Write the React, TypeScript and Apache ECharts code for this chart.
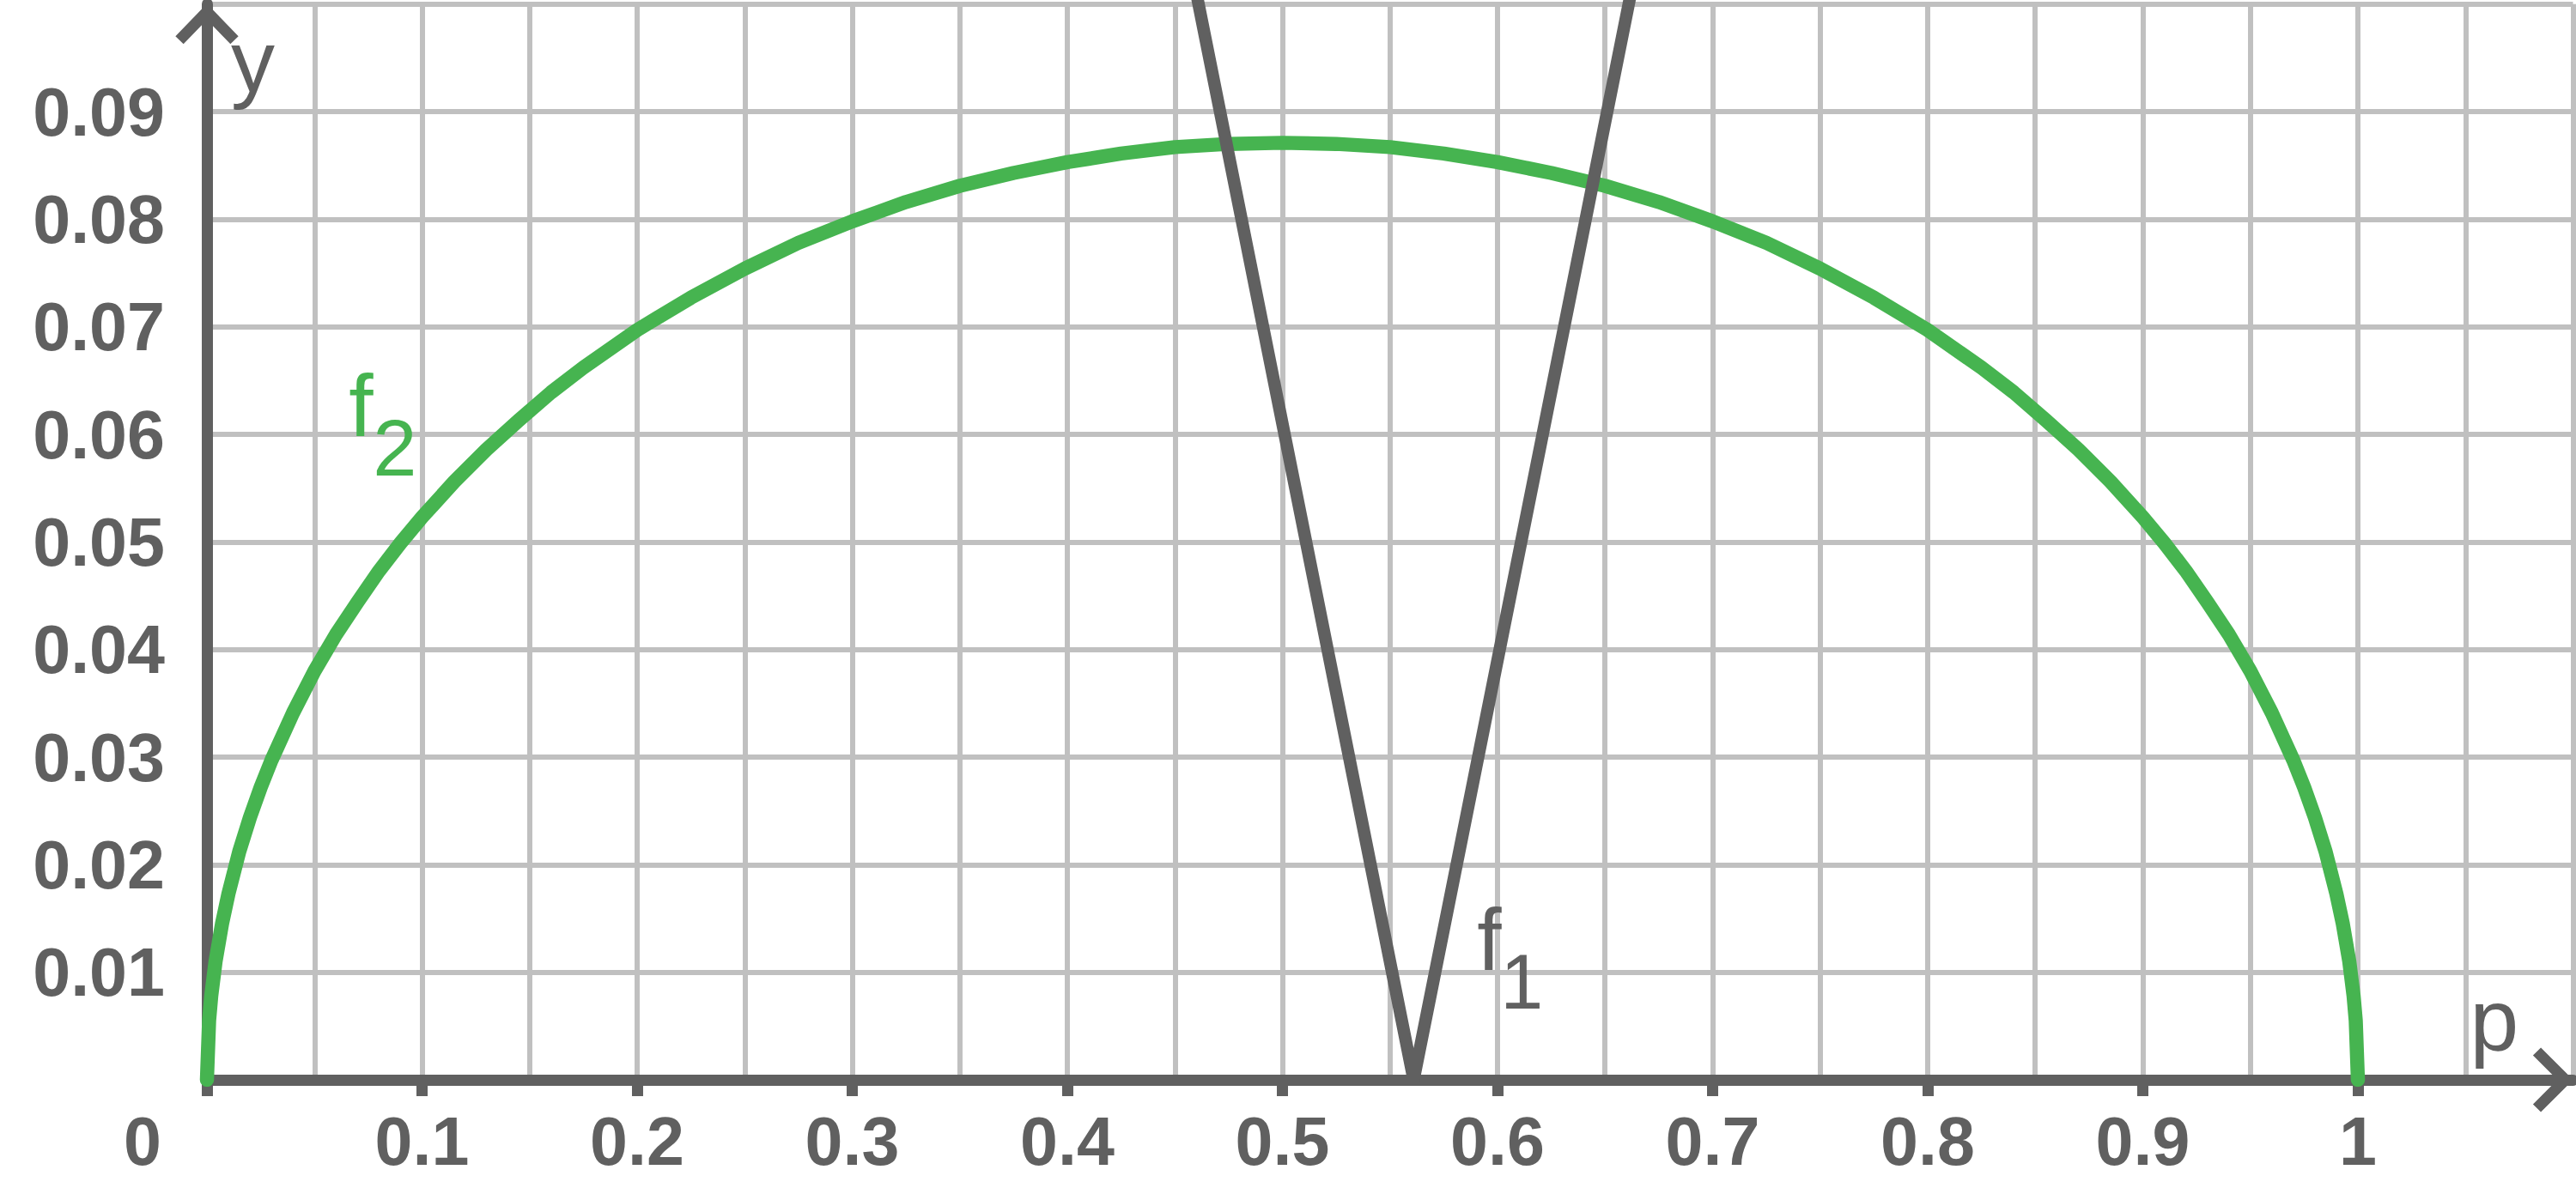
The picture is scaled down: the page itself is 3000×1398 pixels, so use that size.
import React, { useEffect, useRef } from 'react';
import * as echarts from 'echarts';

const AXIS = '#606060';
const GRID = '#c0c0c0';
const GREEN = '#46b450';
const FONT = "'Liberation Sans', Arial, sans-serif";

const xMax = 1.1;
const yMax = 0.1;
const xTickValues = [0, 0.1, 0.2, 0.3, 0.4, 0.5, 0.6, 0.7, 0.8, 0.9, 1];

// f2 curve
const f2P = [
  0, 0.001, 0.002, 0.004, 0.007, 0.01, 0.015, 0.02, 0.025, 0.03, 0.04, 0.05, 0.06,
  0.07, 0.08, 0.09, 0.1, 0.115, 0.13, 0.145, 0.16, 0.175, 0.2, 0.225, 0.25, 0.275,
  0.3, 0.325, 0.35, 0.375, 0.4, 0.425, 0.45, 0.475, 0.5, 0.525, 0.55, 0.575, 0.6,
  0.625, 0.65, 0.675, 0.7, 0.725, 0.75, 0.775, 0.8, 0.825, 0.84, 0.855, 0.87, 0.885,
  0.9, 0.91, 0.92, 0.93, 0.94, 0.95, 0.96, 0.97, 0.975, 0.98, 0.985, 0.99, 0.993,
  0.996, 0.998, 0.999, 1,
];
const f2Y = [
  0, 0.0055, 0.0078, 0.011, 0.0145, 0.0173, 0.0212, 0.0244, 0.0272, 0.0297, 0.0341,
  0.038, 0.0414, 0.0444, 0.0473, 0.0499, 0.0523, 0.0556, 0.0586, 0.0613, 0.0639,
  0.0662, 0.0697, 0.0727, 0.0754, 0.0778, 0.0798, 0.0816, 0.0831, 0.0843, 0.0853,
  0.0861, 0.0867, 0.087, 0.0871, 0.087, 0.0867, 0.0861, 0.0853, 0.0843, 0.0831,
  0.0816, 0.0798, 0.0778, 0.0754, 0.0727, 0.0697, 0.0662, 0.0639, 0.0613, 0.0586,
  0.0556, 0.0523, 0.0499, 0.0473, 0.0444, 0.0414, 0.038, 0.0341, 0.0297, 0.0272,
  0.0244, 0.0212, 0.0173, 0.0145, 0.011, 0.0078, 0.0055, 0,
];

// f1: the V
const f1P = [0.459, 0.561, 0.663];
const f1Y = [0.102, 0, 0.102];

// where the curve names sit (left edge / baseline of the "f")
const f2LabelAt = [0.066, 0.0598];
const f1LabelAt = [0.5905, 0.0102];

const App: React.FC = () => {
  const chartRef = useRef<HTMLDivElement>(null);

  useEffect(() => {
    if (!chartRef.current) return;
    const chart = echarts.init(chartRef.current, null, { renderer: 'svg' });

    const option = {
      animation: false,
      grid: { left: 241, right: 3.5, top: 4.7, bottom: 140, containLabel: false, outerBoundsMode: 'none' },
      xAxis: [
        {
          // grid lines only
          type: 'value', min: 0, max: xMax, interval: 0.05, position: 'bottom', z: 0,
          axisLine: { show: false }, axisTick: { show: false }, axisLabel: { show: false },
          splitLine: { show: true, showMinLine: false, lineStyle: { color: GRID, width: 6 } },
        },
        {
          type: 'value', min: 0, max: xMax, interval: 0.1, position: 'bottom', z: 1,
          axisLine: { show: true, lineStyle: { color: AXIS, width: 13 } },
          axisTick: { show: true, customValues: xTickValues, length: 19, lineStyle: { color: AXIS, width: 13 } },
          splitLine: { show: false },
          axisLabel: {
            customValues: xTickValues,
            margin: 32,
            color: AXIS,
            fontFamily: FONT,
            fontWeight: 'bold',
            fontSize: 79,
            formatter: (v: number) => (v === 0 ? '{z|0}' : v > 1.05 ? '' : String(Math.round(v * 10) / 10)),
            rich: {
              z: { padding: [0, 150, 0, 0], color: AXIS, fontFamily: FONT, fontWeight: 'bold', fontSize: 79 },
            },
          },
        },
      ],
      yAxis: [
        {
          type: 'value', min: 0, max: yMax, interval: 0.01, position: 'left', z: 0,
          axisLine: { show: false }, axisTick: { show: false }, axisLabel: { show: false },
          splitLine: { show: true, showMinLine: false, lineStyle: { color: GRID, width: 6 } },
        },
        {
          type: 'value', min: 0, max: yMax, interval: 0.01, position: 'left', z: 1,
          axisLine: { show: true, lineStyle: { color: AXIS, width: 13 } },
          axisTick: { show: false },
          splitLine: { show: false },
          axisLabel: {
            margin: 49,
            color: AXIS,
            fontFamily: FONT,
            fontWeight: 'bold',
            fontSize: 79,
            formatter: (v: number) => (v < 0.005 || v > 0.095 ? '' : v.toFixed(2)),
          },
        },
      ],
      series: [
        {
          name: 'f2',
          type: 'line',
          xAxisIndex: 1,
          yAxisIndex: 1,
          symbol: 'none',
          z: 2,
          data: f2P.map((p, i) => [p, f2Y[i]]),
          lineStyle: { color: GREEN, width: 16.5, cap: 'round', join: 'round' },
        },
        {
          name: 'f1',
          type: 'line',
          xAxisIndex: 1,
          yAxisIndex: 1,
          symbol: 'none',
          z: 3,
          data: f1P.map((p, i) => [p, f1Y[i]]),
          lineStyle: { color: AXIS, width: 14.5, join: 'miter' },
        },
      ],
    };
    chart.setOption(option);

    const toPx = (v: number[]) => chart.convertToPixel({ gridIndex: 0 }, v) as number[];
    const top = toPx([0, yMax]);
    const origin = toPx([0, 0]);
    const end = toPx([xMax, 0]);
    const f2At = toPx(f2LabelAt);
    const f1At = toPx(f1LabelAt);

    // middle-aligned text: shift from baseline to em centre
    const text = (s: string, x: number, baseline: number, size: number, color: string) => ({
      type: 'text',
      x,
      y: baseline - size * 0.3465,
      z: 5,
      style: {
        text: s,
        font: `${size}px ${FONT}`,
        fill: color,
        textAlign: 'left',
        textVerticalAlign: 'middle',
        align: 'left',
        verticalAlign: 'middle',
      },
    });

    const arrowStyle = { stroke: AXIS, lineWidth: 13, lineJoin: 'miter' };

    chart.setOption({
      graphic: [
        {
          type: 'polyline',
          z: 1,
          shape: { points: [[top[0] - 32, top[1] + 42], [top[0], top[1] + 9], [top[0] + 32, top[1] + 42]] },
          style: arrowStyle,
        },
        {
          type: 'polyline',
          z: 1,
          shape: { points: [[end[0] - 42, origin[1] - 33], [end[0] - 9, origin[1]], [end[0] - 42, origin[1] + 33]] },
          style: arrowStyle,
        },
        text('y', top[0] + 28, top[1] + 103, 102, AXIS),
        text('p', end[0] - 120, origin[1] - 34, 102, AXIS),
        text('f', f2At[0], f2At[1], 102, GREEN),
        text('2', f2At[0] + 28, f2At[1] + 45, 92, GREEN),
        text('f', f1At[0], f1At[1], 102, AXIS),
        text('1', f1At[0] + 27, f1At[1] + 45, 90, AXIS),
      ],
    });

    return () => {
      chart.dispose();
    };
  }, []);

  return <div ref={chartRef} style={{ position: 'fixed', left: 0, top: 0, width: '100vw', height: '100vh' }} />;
};

export default App;
